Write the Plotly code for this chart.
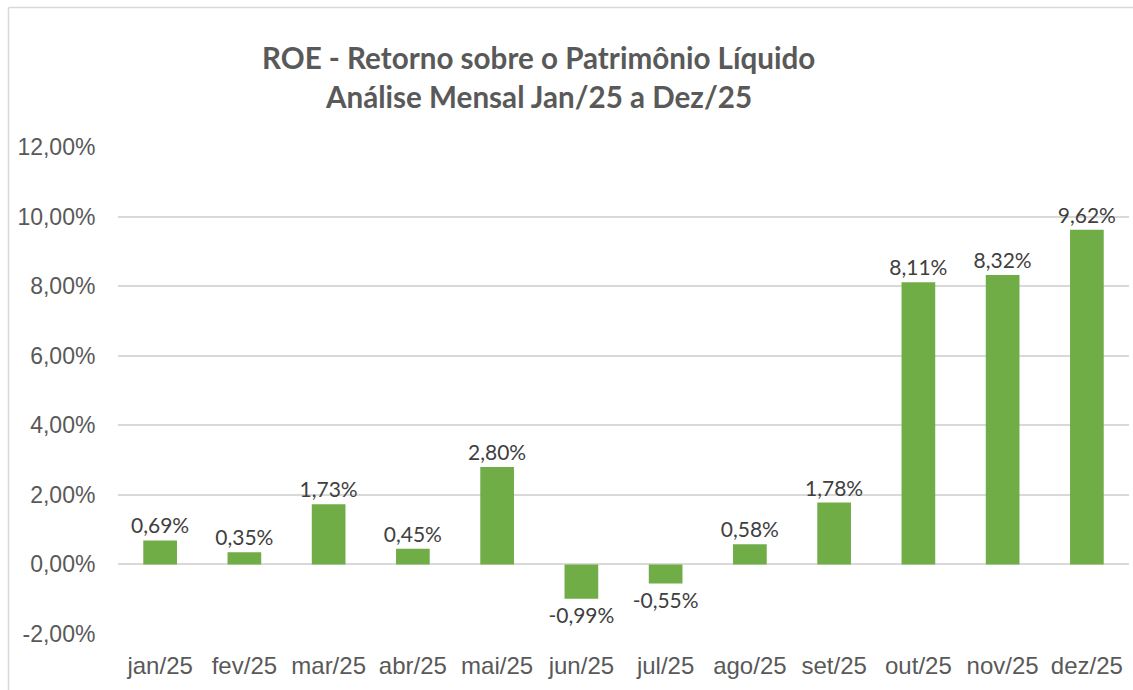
import plotly.graph_objects as go

categories = ["jan/25", "fev/25", "mar/25", "abr/25", "mai/25", "jun/25",
              "jul/25", "ago/25", "set/25", "out/25", "nov/25", "dez/25"]
roe_values = [0.69, 0.35, 1.73, 0.45, 2.80, -0.99, -0.55, 0.58, 1.78, 8.11, 8.32, 9.62]
y_tick_vals = [-2, 0, 2, 4, 6, 8, 10, 12]
y_tick_text = ["-2,00%", "0,00%", "2,00%", "4,00%", "6,00%", "8,00%", "10,00%", "12,00%"]
title_lines = ["ROE - Retorno sobre o Patrimônio Líquido", "Análise Mensal Jan/25 a Dez/25"]

labels = [f"{v:.2f}%".replace(".", ",") for v in roe_values]

W, H = 1133, 690
L, R, T, B = 118, 4, 147, 56
pw = W - L - R
ph = H - T - B

fig = go.Figure()
fig.add_trace(go.Bar(
    x=categories, y=roe_values,
    marker=dict(color="#70AD47", line=dict(width=0)),
    text=labels, textposition="outside", cliponaxis=False, constraintext="none",
    textfont=dict(family="Lato, Carlito, sans-serif", size=21, color="#404040"),
    hoverinfo="x+y",
))

border = dict(color="#D9D9D9", width=1.5)
x_left = (8.5 - L) / pw
y_top = (ph + T - 7.5) / ph
fig.add_shape(type="line", xref="paper", yref="paper", x0=x_left, x1=x_left,
              y0=-(B + 20) / ph, y1=y_top, line=border, layer="below")
fig.add_shape(type="line", xref="paper", yref="paper", x0=x_left, x1=(W + 20 - L) / pw,
              y0=y_top, y1=y_top, line=border, layer="below")

title_font = dict(family="Lato, Carlito, sans-serif", size=29.6, color="#595959", weight="bold")
for line, ypix in zip(title_lines, [57, 97]):
    fig.add_annotation(text=line, xref="paper", yref="paper",
                       x=(538 - L) / pw, y=(ph + T - ypix) / ph,
                       xanchor="center", yanchor="middle", showarrow=False, font=title_font)

fig.update_layout(
    width=W, height=H,
    margin=dict(l=L, r=R, t=T, b=B),
    paper_bgcolor="white", plot_bgcolor="white",
    bargap=0.6, showlegend=False,
    xaxis=dict(showgrid=False, showline=False, ticks="outside", ticklen=10, tickcolor="white",
               tickfont=dict(family="Arial, Liberation Sans, sans-serif", size=24, color="#595959")),
    yaxis=dict(range=[-2, 12], tickvals=y_tick_vals, ticktext=y_tick_text,
               showgrid=True, gridcolor="#D9D9D9", gridwidth=1.5,
               zeroline=True, zerolinecolor="#D9D9D9", zerolinewidth=1.5,
               showline=False, ticks="outside", ticklen=17, tickcolor="white",
               tickfont=dict(family="Arial, Liberation Sans, sans-serif", size=23, color="#595959")),
)

fig.write_html("out.html", config={"displayModeBar": False},
               post_script="document.body.style.margin='0';document.body.style.overflow='hidden';")
